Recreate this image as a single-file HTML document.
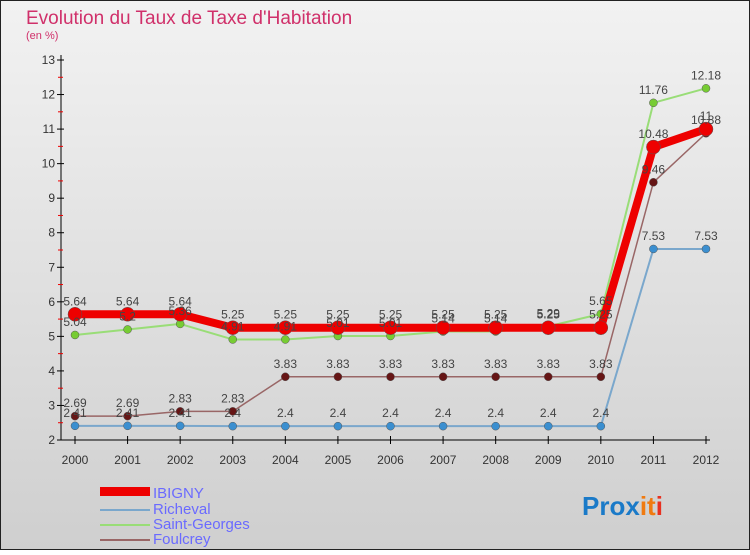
<!DOCTYPE html>
<html><head><meta charset="utf-8"><style>
body{margin:0;}
#c{width:750px;height:550px;position:relative;font-family:"Liberation Sans",sans-serif;}
</style></head><body>
<div id="c">
<svg id="s" width="750" height="550" xmlns="http://www.w3.org/2000/svg">
<defs><linearGradient id="bg" x1="0" y1="0" x2="0" y2="1"><stop offset="0" stop-color="#f2f2f2"/><stop offset="1" stop-color="#cfcfcf"/></linearGradient></defs>
<rect x="0.5" y="0.5" width="749" height="549" fill="url(#bg)" stroke="#222"/>
<text x="26" y="24" font-size="19" fill="#d0306a">Evolution du Taux de Taxe d'Habitation</text>
<text x="26" y="39" font-size="11" fill="#d0306a">(en %)</text>
<g id="axes"></g><g id="series"></g><g id="labels"></g>
<g font-size="15" fill="#6a6aff">
<rect x="100" y="487" width="50" height="9" fill="#e00"/>
<text x="153" y="498">IBIGNY</text>
<line x1="100" y1="510" x2="150" y2="510" stroke="#7aa7cc" stroke-width="2"/>
<text x="153" y="514">Richeval</text>
<line x1="100" y1="525" x2="150" y2="525" stroke="#99dd77" stroke-width="2"/>
<text x="153" y="529">Saint-Georges</text>
<line x1="100" y1="540" x2="150" y2="540" stroke="#996666" stroke-width="2"/>
<text x="153" y="544">Foulcrey</text>
</g>
<text x="582" y="515" font-size="26" font-weight="bold"><tspan fill="#1a7ac8">Pro</tspan><tspan fill="#1a7ac8">x</tspan><tspan fill="#f07a10">it</tspan><tspan fill="#e83020">i</tspan></text>
</svg></div>
<script>
const years=["2000","2001","2002","2003","2004","2005","2006","2007","2008","2009","2010","2011","2012"];
const yTicks=[2,3,4,5,6,7,8,9,10,11,12,13];
const ibigny=[5.64,5.64,5.64,5.25,5.25,5.25,5.25,5.25,5.25,5.25,5.25,10.48,11];
const richeval=[2.41,2.41,2.41,2.4,2.4,2.4,2.4,2.4,2.4,2.4,2.4,7.53,7.53];
const saintGeorges=[5.04,5.2,5.36,4.91,4.91,5.01,5.01,5.14,5.14,5.29,5.65,11.76,12.18];
const foulcrey=[2.69,2.69,2.83,2.83,3.83,3.83,3.83,3.83,3.83,3.83,3.83,9.46,10.88];
const NS="http://www.w3.org/2000/svg";
const X=i=>75+i*(706-75)/12;
const Y=v=>440-(v-2)*(380/11);
function mk(t,a,p){const e=document.createElementNS(NS,t);for(const k in a)e.setAttribute(k,a[k]);p.appendChild(e);return e;}
const ax=document.getElementById('axes');
let l=mk('line',{x1:61,y1:55,x2:61,y2:440,stroke:'#000'},ax);


l=mk('line',{x1:61,y1:440,x2:710,y2:440,stroke:'#000'},ax);


yTicks.forEach(v=>{
 mk('line',{x1:57,y1:Y(v),x2:64,y2:Y(v),stroke:'#000'},ax);
 if(v<13)mk('line',{x1:58,y1:Y(v+0.5),x2:63,y2:Y(v+0.5),stroke:'#e00'},ax);
 const t=mk('text',{x:55,y:Y(v)+4,'font-size':12,'text-anchor':'end',fill:'#333'},ax);t.textContent=v;
 
 
});
years.forEach((y,i)=>{
 mk('line',{x1:X(i),y1:436,x2:X(i),y2:444,stroke:'#000'},ax);
 const t=mk('text',{x:X(i),y:464,'font-size':12,'text-anchor':'middle',fill:'#333'},ax);t.textContent=y;
 
 
});
const sg=document.getElementById('series'),lg=document.getElementById('labels');
function series(name,data,col,w,r,dot){
 const g=mk('g',{},sg);
 
 
 mk('polyline',{points:data.map((v,i)=>X(i)+','+Y(v)).join(' '),fill:'none',stroke:col,'stroke-width':w,'stroke-linejoin':'round'},g);
 data.forEach((v,i)=>{
  const c=mk('circle',{cx:X(i),cy:Y(v),r:r,fill:dot,stroke:'#555','stroke-width':0.5},g);
  
  
  const t=mk('text',{x:X(i),y:Y(v)-9,'font-size':12,'text-anchor':'middle',fill:'#444'},lg);
  t.textContent=String(v);
  
  
 });
}
series('richeval',richeval,'#7aa7cc',2,4,'#3b8fd0');
series('saint-georges',saintGeorges,'#99dd77',2,4,'#77cc33');
series('foulcrey',foulcrey,'#996666',1.5,4,'#661515');
series('ibigny',ibigny,'#ee0000',8,7,'#ee0000');
</script>
</body></html>
